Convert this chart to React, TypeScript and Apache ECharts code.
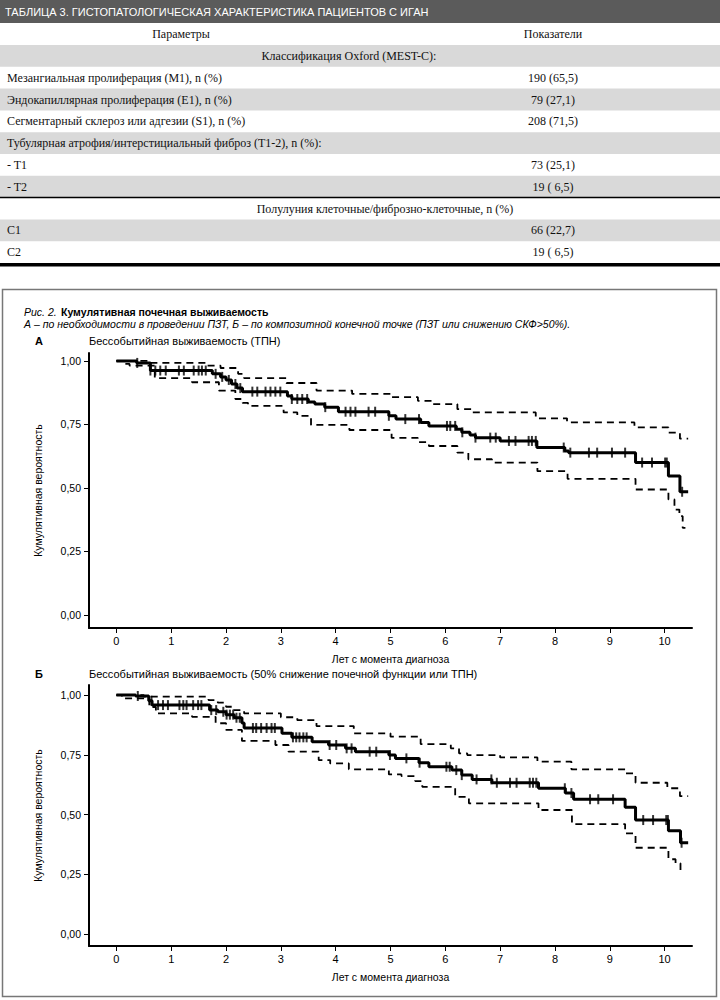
import React, { useEffect, useRef } from "react";
import * as echarts from "echarts";

// ---------- Table data ----------
const tableTitle = "ТАБЛИЦА 3. ГИСТОПАТОЛОГИЧЕСКАЯ ХАРАКТЕРИСТИКА ПАЦИЕНТОВ С ИГАН";
const tableHeaders = ["Параметры", "Показатели"];
const tableLabels = [
  "Классификация Oxford (MEST-C):",
  "Мезангиальная пролиферация (M1), n (%)",
  "Эндокапиллярная пролиферация (E1), n (%)",
  "Сегментарный склероз или адгезии (S1), n (%)",
  "Тубулярная атрофия/интерстициальный фиброз (T1-2), n (%):",
  "- T1",
  "- T2",
  "Полулуния клеточные/фиброзно-клеточные, n (%)",
  "C1",
  "C2",
];
const tableValues = ["", "190 (65,5)", "79 (27,1)", "208 (71,5)", "", "73 (25,1)", "19 ( 6,5)", "", "66 (22,7)", "19 ( 6,5)"];
const tableSection = [true, false, false, false, false, false, false, true, false, false];

// ---------- Figure texts ----------
const figLabel = "Рис. 2.";
const figTitle = "Кумулятивная почечная выживаемость";
const figSubtitle = "А – по необходимости в проведении ПЗТ, Б – по композитной конечной точке (ПЗТ или снижению СКФ>50%).";
const panelLetters = ["А", "Б"];
const panelTitles = [
  "Бессобытийная выживаемость (ТПН)",
  "Бессобытийная выживаемость (50% снижение почечной функции или ТПН)",
];
const yAxisName = "Кумулятивная вероятность";
const xAxisName = "Лет с момента диагноза";
const xTicks = [0, 1, 2, 3, 4, 5, 6, 7, 8, 9, 10];
const yTicks = [0, 0.25, 0.5, 0.75, 1];

// ---------- Panel A (ТПН) ----------
const aTime = [0, 0.37, 0.62, 1.75, 1.9, 2.0, 2.1, 2.2, 2.3, 3.12, 3.2, 3.5, 3.62, 3.8, 4.05, 4.97, 5.1, 5.55, 5.7, 6.2, 6.3, 6.45, 6.55, 7.0, 7.67, 8.18, 8.25, 9.47, 10.07, 10.28, 10.43];
const aSurv = [1.0, 0.992, 0.962, 0.949, 0.937, 0.925, 0.909, 0.893, 0.879, 0.862, 0.85, 0.838, 0.83, 0.818, 0.8, 0.784, 0.771, 0.758, 0.744, 0.731, 0.719, 0.708, 0.698, 0.685, 0.659, 0.645, 0.639, 0.6, 0.547, 0.485, 0.485];
const aUpTime = [0, 0.6, 1.65, 1.9, 2.22, 2.33, 3.1, 3.65, 4.3, 5.0, 5.5, 5.75, 6.22, 6.5, 7.65, 8.22, 9.45, 10.07, 10.28, 10.43];
const aUp = [1.0, 0.992, 0.981, 0.972, 0.949, 0.932, 0.913, 0.883, 0.87, 0.857, 0.843, 0.83, 0.81, 0.797, 0.774, 0.758, 0.738, 0.718, 0.694, 0.694];
const aLoTime = [0, 0.12, 0.24, 0.7, 1.38, 1.87, 2.17, 2.3, 2.4, 3.05, 3.3, 3.55, 4.25, 5.02, 5.5, 5.7, 6.22, 6.42, 6.85, 7.68, 8.23, 9.47, 10.07, 10.18, 10.27, 10.33, 10.38];
const aLo = [1.0, 0.988, 0.981, 0.932, 0.916, 0.883, 0.85, 0.835, 0.823, 0.797, 0.784, 0.748, 0.728, 0.697, 0.68, 0.665, 0.639, 0.613, 0.6, 0.566, 0.536, 0.494, 0.455, 0.415, 0.389, 0.343, 0.343];
const aCensor = [0.38, 0.62, 0.71, 0.8, 0.9, 1.14, 1.23, 1.41, 1.5, 1.56, 1.63, 1.81, 1.93, 2.05, 2.17, 2.26, 2.48, 2.57, 2.72, 2.81, 2.9, 2.99, 3.2, 3.3, 3.39, 3.48, 3.81, 4.18, 4.27, 4.36, 4.6, 4.72, 4.97, 5.27, 5.52, 6.03, 6.09, 6.18, 6.31, 6.55, 6.82, 6.92, 7.16, 7.28, 7.52, 7.58, 7.65, 8.16, 8.28, 8.62, 8.77, 9.04, 9.28, 9.59, 9.77, 10.01, 10.04, 10.32];

// ---------- Panel Б (50% снижение или ТПН) ----------
const bTime = [0, 0.35, 0.59, 0.65, 1.7, 1.85, 2.0, 2.15, 2.29, 2.33, 3.02, 3.2, 3.57, 3.87, 4.18, 4.36, 4.97, 5.09, 5.52, 5.7, 6.12, 6.3, 6.49, 6.85, 7.7, 8.19, 8.34, 9.28, 9.47, 10.07, 10.29, 10.43];
const bSurv = [1.0, 0.996, 0.976, 0.958, 0.937, 0.93, 0.918, 0.905, 0.883, 0.862, 0.84, 0.823, 0.805, 0.791, 0.777, 0.763, 0.749, 0.735, 0.717, 0.7, 0.686, 0.665, 0.647, 0.633, 0.61, 0.59, 0.564, 0.53, 0.477, 0.432, 0.382, 0.382];
const bUpTime = [0, 0.5, 1.68, 1.85, 2.0, 2.15, 2.33, 3.0, 3.3, 3.65, 4.33, 5.0, 5.55, 6.1, 6.25, 6.4, 7.0, 7.68, 8.3, 9.28, 9.47, 10.05, 10.28, 10.43];
const bUp = [1.0, 0.993, 0.979, 0.968, 0.951, 0.937, 0.923, 0.907, 0.895, 0.87, 0.84, 0.826, 0.795, 0.777, 0.756, 0.749, 0.739, 0.721, 0.689, 0.672, 0.633, 0.61, 0.577, 0.577];
const bLoTime = [0, 0.1, 0.6, 0.72, 1.38, 1.81, 2.0, 2.29, 2.9, 3.14, 3.69, 3.9, 4.24, 4.97, 5.2, 5.45, 5.58, 6.18, 6.43, 7.7, 8.31, 9.28, 9.47, 10.07, 10.2, 10.29, 10.35];
const bLo = [1.0, 0.986, 0.95, 0.923, 0.909, 0.882, 0.854, 0.808, 0.791, 0.763, 0.728, 0.714, 0.689, 0.668, 0.661, 0.64, 0.616, 0.574, 0.547, 0.519, 0.46, 0.421, 0.361, 0.313, 0.296, 0.261, 0.261];
const bCensor = [0.39, 0.64, 0.76, 0.85, 0.94, 1.15, 1.22, 1.28, 1.4, 1.49, 1.55, 1.73, 1.82, 1.95, 2.01, 2.07, 2.13, 2.19, 2.25, 2.49, 2.55, 2.64, 2.74, 2.83, 2.89, 3.22, 3.28, 3.34, 3.41, 3.47, 3.89, 4.01, 4.2, 4.29, 4.62, 4.74, 4.99, 5.29, 5.53, 6.02, 6.08, 6.2, 6.3, 6.57, 6.84, 6.94, 7.18, 7.3, 7.54, 7.6, 7.66, 8.18, 8.3, 8.64, 8.79, 9.06, 9.61, 9.79, 10.03, 10.06, 10.31];

const SANS = "'Liberation Sans', Arial, sans-serif";
const SERIF = "'Liberation Serif', 'Times New Roman', serif";

function stepSeries(ts: number[], ss: number[]) {
  return ts.map((t, i) => [t, ss[i]]);
}
function stepAt(ts: number[], ss: number[], t: number) {
  let v = ss[0];
  for (let i = 0; i < ts.length; i++) if (ts[i] <= t) v = ss[i];
  return v;
}

export default function App() {
  const ref = useRef<HTMLDivElement>(null);

  useEffect(() => {
    document.body.style.margin = "0";
    const chart = echarts.init(ref.current!, undefined, { renderer: "svg" });

    // ---- table graphics ----
    const g: any[] = [];
    g.push({ type: "rect", shape: { x: 0, y: 0, width: 720, height: 23 }, style: { fill: "#5b5b5b" } });
    g.push({
      type: "text", x: 5, y: 12,
      style: { text: tableTitle, fill: "#fff", font: `11px ${SANS}`, textAlign: "left", textVerticalAlign: "middle" },
    });
    g.push({ type: "text", x: 181, y: 34, style: { text: tableHeaders[0], fill: "#111", font: `12px ${SERIF}`, textAlign: "center", textVerticalAlign: "middle" } });
    g.push({ type: "text", x: 553, y: 34, style: { text: tableHeaders[1], fill: "#111", font: `12px ${SERIF}`, textAlign: "center", textVerticalAlign: "middle" } });
    const rowTop = 45;
    const rowH = 21.8;
    tableLabels.forEach((lab, i) => {
      const y0 = rowTop + i * rowH;
      if (i % 2 === 0) {
        g.push({ type: "rect", shape: { x: 0, y: y0, width: 720, height: rowH }, style: { fill: "#d9d9d9" } });
      }
      const cy = y0 + rowH / 2;
      if (tableSection[i]) {
        g.push({ type: "text", x: i === 0 ? 349 : 385, y: cy, style: { text: lab, fill: "#111", font: `12px ${SERIF}`, textAlign: "center", textVerticalAlign: "middle" } });
      } else {
        g.push({ type: "text", x: 7, y: cy, style: { text: lab, fill: "#111", font: `12px ${SERIF}`, textAlign: "left", textVerticalAlign: "middle" } });
      }
      if (tableValues[i]) {
        g.push({ type: "text", x: 553, y: cy, style: { text: tableValues[i], fill: "#111", font: `12px ${SERIF}`, textAlign: "center", textVerticalAlign: "middle" } });
      }
    });
    const sepY = rowTop + 7 * rowH;
    g.push({ type: "line", shape: { x1: 0, y1: sepY, x2: 720, y2: sepY }, style: { stroke: "#000", lineWidth: 1.5 } });
    const endY = rowTop + 10 * rowH;
    g.push({ type: "rect", shape: { x: 0, y: endY, width: 720, height: 3.5 }, style: { fill: "#000" } });

    // ---- figure frame & captions ----
    g.push({ type: "rect", shape: { x: 2.5, y: 289.5, width: 714, height: 707 }, style: { fill: "none", stroke: "#777", lineWidth: 1.5 } });
    g.push({ type: "text", x: 24, y: 312, style: { text: figLabel, fill: "#000", font: `italic 10.5px ${SANS}`, textAlign: "left", textVerticalAlign: "middle" } });
    g.push({ type: "text", x: 61, y: 312, style: { text: figTitle, fill: "#000", font: `bold 10.5px ${SANS}`, textAlign: "left", textVerticalAlign: "middle" } });
    g.push({ type: "text", x: 24, y: 323.5, style: { text: figSubtitle, fill: "#000", font: `italic 10.5px ${SANS}`, textAlign: "left", textVerticalAlign: "middle" } });
    const panelY = [341, 674];
    panelLetters.forEach((L, i) => {
      g.push({ type: "text", x: 39, y: panelY[i], style: { text: L, fill: "#000", font: `bold 11px ${SANS}`, textAlign: "center", textVerticalAlign: "middle" } });
      g.push({ type: "text", x: 89, y: panelY[i], style: { text: panelTitles[i], fill: "#000", font: `11px ${SANS}`, textAlign: "left", textVerticalAlign: "middle" } });
    });

    const yLabelFmt = (v: number) => v.toFixed(2).replace(".", ",");
    const mkX = (idx: number) => ({
      type: "value", gridIndex: idx, min: -0.5, max: 10.5,
      name: xAxisName, nameLocation: "middle", nameGap: 25,
      nameTextStyle: { color: "#000", fontSize: 10.5, fontFamily: SANS },
      axisLine: { show: true, onZero: false, lineStyle: { color: "#000", width: 2 } },
      axisTick: { show: true, customValues: xTicks, length: 5, lineStyle: { color: "#000", width: 1 } },
      axisLabel: { customValues: xTicks, color: "#000", fontSize: 11, fontFamily: SANS, margin: 7 },
      splitLine: { show: false },
    });
    const mkY = (idx: number, min: number, max: number) => ({
      type: "value", gridIndex: idx, min, max,
      name: yAxisName, nameLocation: "middle", nameGap: 46, nameRotate: 90,
      nameTextStyle: { color: "#000", fontSize: 10.5, fontFamily: SANS },
      axisLine: { show: true, onZero: false, lineStyle: { color: "#000", width: 2 } },
      axisTick: { show: true, customValues: yTicks, length: 5, lineStyle: { color: "#000", width: 1 } },
      axisLabel: { customValues: yTicks, color: "#000", fontSize: 10.5, fontFamily: SANS, margin: 8, formatter: yLabelFmt },
      splitLine: { show: false },
    });

    const panels = [
      { t: aTime, s: aSurv, ut: aUpTime, u: aUp, lt: aLoTime, l: aLo, c: aCensor },
      { t: bTime, s: bSurv, ut: bUpTime, u: bUp, lt: bLoTime, l: bLo, c: bCensor },
    ];
    const series: any[] = [];
    panels.forEach((p, k) => {
      const dash = { color: "#000", width: 1.8, type: [7, 5] };
      series.push({ type: "line", xAxisIndex: k, yAxisIndex: k, step: "end", symbol: "none", silent: true, lineStyle: dash, data: stepSeries(p.ut, p.u), z: 2 });
      series.push({ type: "line", xAxisIndex: k, yAxisIndex: k, step: "end", symbol: "none", silent: true, lineStyle: dash, data: stepSeries(p.lt, p.l), z: 2 });
      series.push({ type: "line", xAxisIndex: k, yAxisIndex: k, step: "end", symbol: "none", silent: true, lineStyle: { color: "#000", width: 3 }, data: stepSeries(p.t, p.s), z: 3 });
      series.push({
        type: "scatter", xAxisIndex: k, yAxisIndex: k, symbol: "rect", symbolSize: [2, 10], silent: true,
        itemStyle: { color: "#000" }, data: p.c.map((c) => [c, stepAt(p.t, p.s, c)]), z: 4,
      });
    });

    chart.setOption({
      animation: false,
      backgroundColor: "#fff",
      grid: [
        { left: 89, right: 28, top: 353, bottom: 372 },
        { left: 89, right: 28, top: 685, bottom: 54 },
      ],
      xAxis: [mkX(0), mkX(1)],
      yAxis: [mkY(0, -0.051, 1.031), mkY(1, -0.05, 1.042)],
      series,
      graphic: { elements: g },
    });
    return () => chart.dispose();
  }, []);

  return <div ref={ref} style={{ position: "absolute", left: 0, top: 0, width: 720, height: 1000 }} />;
}
